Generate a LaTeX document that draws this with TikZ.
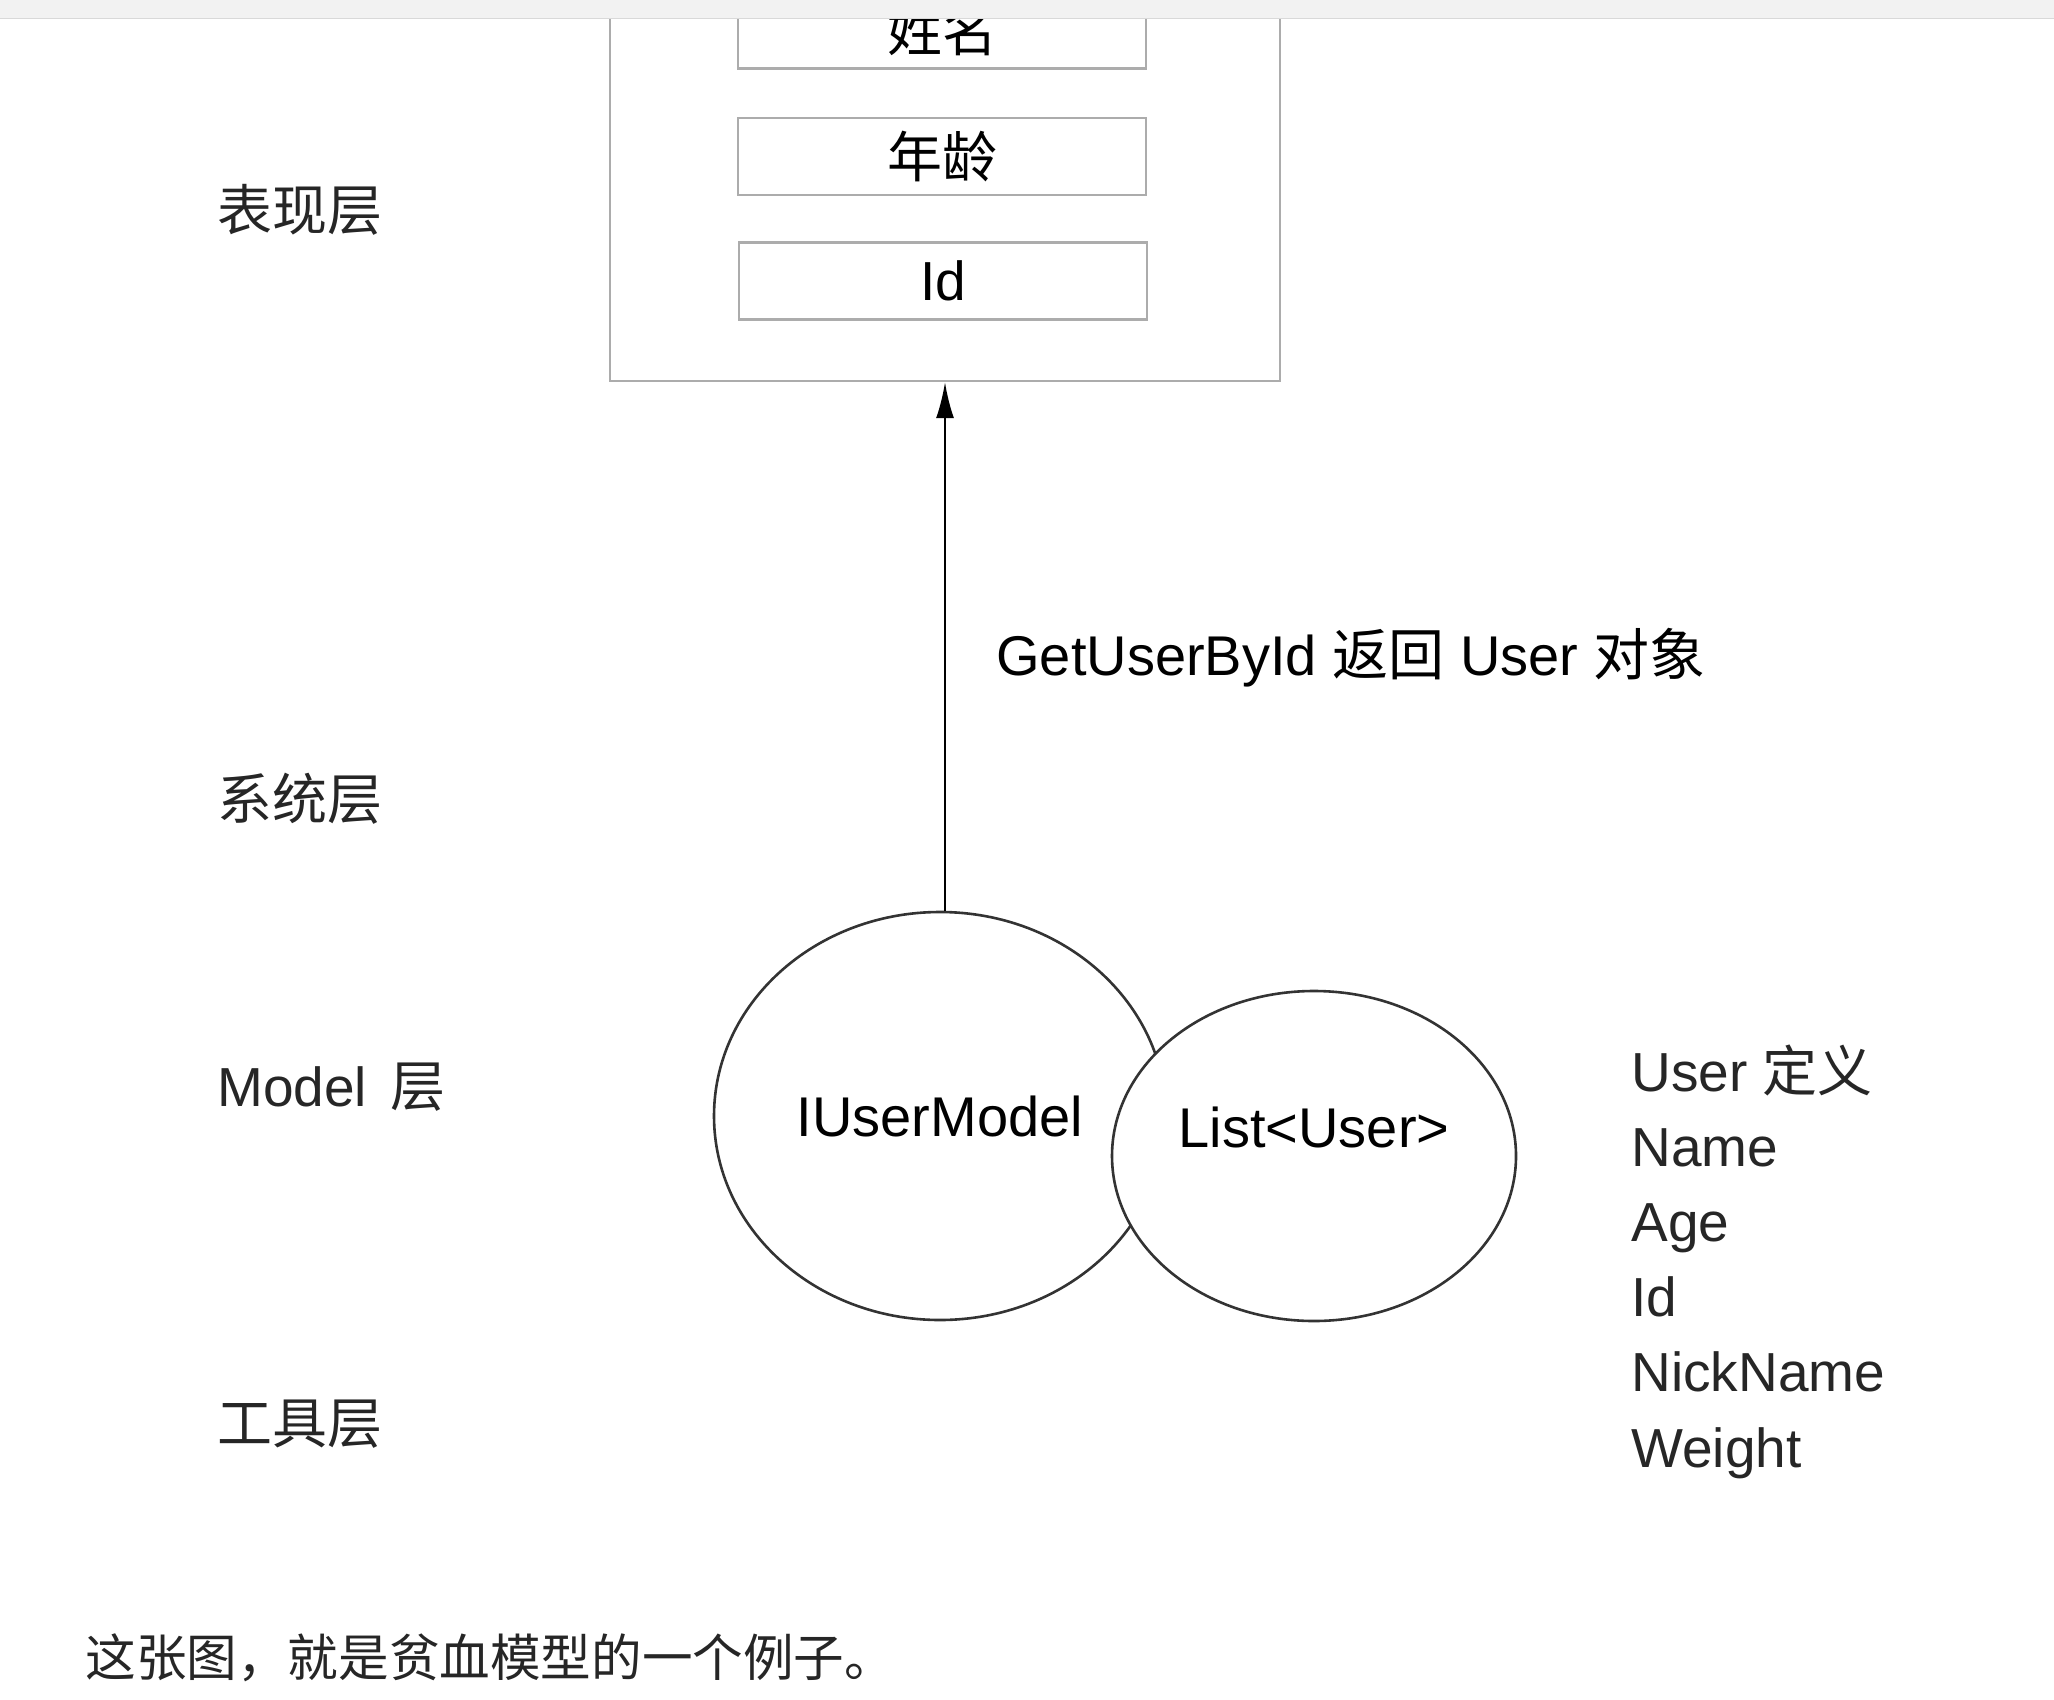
\documentclass[tikz,border=0pt]{standalone}
\usepackage{fontspec}
\setmainfont{Liberation Sans}
\newfontfamily\cjk{Noto Sans CJK SC}
\usetikzlibrary{shapes.geometric,arrows.meta}

\tikzset{
  fieldbox/.style={draw=gray!65,line width=1.2pt,minimum width=204pt,minimum height=38.5pt,font=\fontsize{27.5}{33}\selectfont},
  layer/.style={anchor=west,inner sep=0pt,text=black!85,font=\fontsize{27.5}{33}\selectfont},
  bubble/.style={ellipse,draw=black!80,line width=1.3pt,fill=white,inner sep=0pt,font=\fontsize{28}{34}\selectfont},
}

\begin{document}
\begin{tikzpicture}[x=0.5pt,y=-0.5pt]
\useasboundingbox (0,0) rectangle (2054,1700);
\clip (0,0) rectangle (2054,1700);

\node[draw=gray!65,line width=1.2pt,minimum width=335pt,minimum height=220.5pt] (view) at (945,160.5) {};
\node[fieldbox] (name) at (942,30) {\cjk 姓名};
\node[fieldbox] (age) at (942,156.5) {\cjk 年龄};
\node[fieldbox] (id) at (943,281) {Id};

\fill[gray!10] (0,0) rectangle (2054,18);
\draw[gray!30] (0,18) -- (2054,18);

\node[layer] (ui) at (217,210) {\cjk 表现层};
\node[layer] (sys) at (217,799) {\cjk 系统层};
\node[layer] (mdl) at (217,1087) {Model\hspace{4pt} {\cjk 层}};
\node[layer] (tool) at (217,1424) {\cjk 工具层};

\node[bubble,minimum width=226pt,minimum height=204pt] (model) at (940,1116) {IUserModel};
\node[bubble,minimum width=202pt,minimum height=165pt] (list) at (1314,1156) {};
\node[font=\fontsize{28}{34}\selectfont] (listtext) at ([yshift=14.5pt]list.center) {List<User>};

\draw[line width=1.1pt,-{Latex[length=18pt,width=9pt]}] (view.south |- model.north) -- (view.south);
\node[anchor=west,inner sep=0pt,font=\fontsize{28}{34}\selectfont] (call) at (996,658) {GetUserById {\cjk 返回} User {\cjk 对象}};

\foreach \t [count=\i from 0] in {User {\cjk 定义},Name,Age,Id,NickName,Weight}
  \node[layer,anchor=base west] (f\i) at (1631,{1091+75.2*\i}) {\t};

\node[anchor=west,inner sep=0pt,text=black!85,font=\cjk\fontsize{25.3}{30}\selectfont] (note) at (85,1658) {这张图，就是贫血模型的一个例子。};
\end{tikzpicture}
\end{document}
